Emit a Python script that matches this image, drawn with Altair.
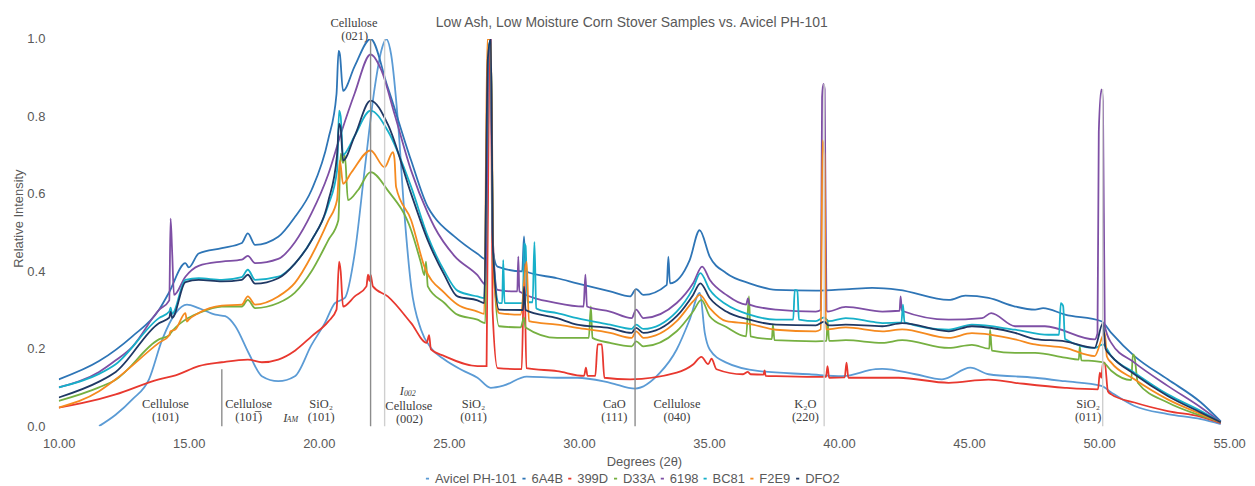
import altair as alt
import pandas as pd

SERIES = ["Avicel PH-101", "6A4B", "399D", "D33A", "6198", "BC81", "F2E9", "DFO2"]
COLORS = ["#5B9BD5", "#2E75B6", "#E8382F", "#76B041", "#7E4FA5", "#17B0C9", "#F58A1F", "#1F3864"]

AVICEL = [(11.55,0.0),(12.20,0.03),(12.83,0.069),(13.47,0.121),(13.98,0.224),(14.49,0.292),(14.93,0.314),(15.38,0.305),(16.02,0.288),(16.40,0.284),(16.79,0.258),(17.30,0.189),(17.81,0.129),(18.44,0.116),(19.08,0.129),(19.72,0.21),(20.23,0.266),(20.62,0.318),(21.00,0.331),(21.38,0.446),(21.76,0.661),(22.15,0.875),(22.40,0.969),(22.59,1.0),(22.78,0.96),(23.04,0.789),(23.29,0.549),(23.55,0.361),(23.93,0.249),(24.31,0.202),(24.83,0.172),(25.50,0.145),(26.10,0.125),(26.61,0.099),(27.12,0.105),(27.99,0.128),(29.16,0.125),(29.93,0.125),(31.20,0.112),(32.16,0.097),(33.12,0.138),(33.76,0.198),(34.26,0.275),(34.65,0.344),(34.84,0.241),(35.03,0.198),(35.67,0.164),(36.94,0.142),(38.86,0.134),(40.14,0.129),(41.41,0.147),(41.67,0.148),(42.94,0.134),(43.96,0.121),(45.05,0.151),(45.75,0.134),(47.54,0.125),(48.69,0.116),(50.09,0.104),(50.47,0.087),(51.36,0.052),(52.64,0.031),(53.92,0.018),(54.68,0.005)]

S_6A4B = [(10.0,0.121),(11.55,0.168),(12.83,0.232),(13.85,0.300),(14.23,0.344),(14.87,0.421),(15.00,0.410),(15.38,0.446),(16.27,0.460),(17.04,0.473),(17.27,0.498),(17.55,0.468),(18.44,0.489),(19.08,0.54),(19.72,0.61),(20.36,0.74),(20.68,0.858),(20.76,0.969),(20.81,0.96),(20.93,0.866),(21.38,0.93),(21.99,1.0),(22.65,0.875),(23.55,0.686),(24.19,0.566),(24.44,0.540),(25.21,0.49),(26.10,0.445),(26.45,0.43),(26.55,0.98),(26.61,1.0),(26.70,0.45),(26.87,0.412),(27.82,0.40),(27.89,0.49),(27.95,0.40),(29.16,0.382),(29.93,0.369),(31.20,0.348),(31.97,0.335),(32.20,0.354),(32.48,0.339),(33.38,0.365),(33.44,0.438),(33.50,0.369),(34.26,0.429),(34.64,0.506),(35.03,0.438),(35.67,0.395),(36.56,0.369),(37.58,0.352),(39.11,0.350),(40.39,0.354),(41.28,0.357),(42.30,0.352),(44.22,0.326),(44.86,0.337),(45.75,0.331),(46.77,0.309),(47.54,0.301),(47.85,0.305),(48.69,0.288),(50.09,0.271),(50.47,0.241),(51.36,0.181),(52.64,0.121),(53.92,0.061),(54.68,0.012)]

S_399D = [(10.0,0.048),(11.55,0.07),(12.19,0.082),(13.85,0.121),(14.49,0.131),(15.38,0.155),(16.27,0.165),(17.27,0.172),(17.81,0.165),(18.44,0.172),(19.08,0.195),(19.72,0.232),(20.36,0.27),(20.68,0.301),(20.78,0.425),(20.84,0.40),(20.93,0.309),(21.38,0.335),(21.83,0.361),(21.89,0.391),(21.95,0.375),(21.99,0.391),(22.08,0.361),(22.65,0.335),(23.55,0.266),(24.15,0.215),(24.24,0.235),(24.31,0.198),(24.83,0.181),(26.10,0.155),(26.45,0.155),(26.55,0.95),(26.61,1.0),(26.68,0.3),(26.87,0.15),(27.80,0.147),(27.90,0.42),(27.98,0.15),(29.16,0.142),(30.20,0.13),(30.27,0.151),(30.33,0.13),(30.63,0.13),(30.72,0.211),(30.88,0.211),(30.98,0.125),(31.97,0.121),(33.76,0.138),(34.39,0.159),(34.71,0.179),(34.97,0.16),(35.10,0.174),(35.29,0.147),(36.31,0.134),(36.50,0.14),(36.60,0.134),(37.10,0.133),(37.14,0.144),(37.18,0.130),(37.58,0.129),(39.11,0.127),(39.50,0.127),(39.56,0.155),(39.62,0.125),(40.22,0.126),(40.29,0.164),(40.36,0.125),(41.41,0.125),(42.30,0.125),(44.22,0.112),(45.75,0.12),(46.77,0.112),(48.69,0.099),(49.96,0.095),(50.03,0.138),(50.09,0.125),(50.15,0.164),(50.22,0.164),(50.34,0.09),(50.47,0.082),(51.36,0.061),(52.64,0.039),(53.92,0.024),(54.68,0.008)]

S_D33A = [(10.0,0.065),(11.55,0.10),(12.19,0.12),(13.85,0.224),(14.25,0.235),(14.30,0.24),(14.87,0.275),(15.38,0.292),(16.27,0.309),(17.04,0.309),(17.27,0.326),(17.55,0.305),(18.44,0.318),(19.08,0.345),(19.72,0.40),(20.36,0.48),(20.75,0.532),(20.84,0.704),(20.93,0.68),(21.00,0.70),(21.12,0.584),(21.51,0.61),(21.99,0.656),(22.65,0.609),(23.55,0.506),(23.93,0.421),(24.06,0.39),(24.12,0.425),(24.19,0.361),(24.83,0.318),(25.33,0.288),(26.10,0.275),(26.40,0.266),(26.52,0.95),(26.61,1.0),(26.70,0.45),(26.93,0.258),(27.76,0.255),(27.89,0.28),(27.95,0.255),(29.16,0.228),(30.38,0.228),(30.46,0.309),(30.52,0.228),(31.20,0.215),(32.03,0.206),(32.20,0.219),(32.48,0.206),(33.76,0.245),(34.39,0.296),(34.71,0.326),(35.03,0.284),(35.67,0.256),(36.43,0.232),(36.54,0.335),(36.60,0.232),(37.42,0.225),(37.46,0.262),(37.52,0.222),(39.11,0.219),(39.52,0.22),(39.56,0.275),(39.62,0.22),(40.26,0.222),(41.67,0.215),(42.43,0.222),(44.22,0.202),(45.11,0.21),(45.78,0.20),(45.81,0.249),(45.88,0.195),(46.77,0.189),(47.54,0.189),(48.69,0.177),(49.22,0.172),(49.26,0.206),(49.32,0.170),(49.83,0.168),(50.15,0.165),(50.47,0.143),(51.24,0.119),(51.30,0.185),(51.36,0.18),(51.49,0.112),(52.64,0.061),(53.92,0.027),(54.68,0.010)]

S_6198 = [(10.0,0.100),(11.55,0.140),(12.19,0.170),(12.83,0.205),(13.85,0.300),(14.25,0.325),(14.30,0.536),(14.36,0.45),(14.43,0.339),(14.87,0.386),(15.38,0.414),(16.27,0.425),(17.04,0.430),(17.27,0.440),(17.55,0.421),(18.44,0.432),(19.08,0.475),(19.72,0.55),(20.36,0.65),(20.87,0.76),(21.38,0.86),(21.99,0.960),(22.40,0.92),(22.91,0.806),(23.55,0.66),(24.19,0.55),(24.44,0.515),(25.21,0.44),(26.10,0.39),(26.42,0.365),(26.52,0.95),(26.61,1.0),(26.68,0.5),(26.87,0.352),(27.50,0.348),(27.63,0.348),(27.67,0.438),(27.71,0.348),(29.16,0.318),(30.18,0.309),(30.25,0.391),(30.31,0.309),(31.20,0.296),(32.03,0.279),(32.20,0.301),(32.48,0.279),(33.76,0.318),(34.39,0.369),(34.74,0.412),(35.03,0.378),(35.67,0.339),(36.43,0.314),(36.50,0.33),(36.56,0.314),(37.58,0.301),(39.11,0.296),(39.30,0.30),(39.35,0.85),(39.40,0.884),(39.45,0.87),(39.52,0.30),(39.56,0.296),(40.26,0.308),(41.67,0.296),(42.33,0.298),(42.37,0.335),(42.42,0.298),(44.22,0.275),(45.50,0.279),(45.85,0.292),(46.77,0.258),(47.54,0.258),(47.92,0.258),(49.83,0.224),(49.94,0.24),(49.99,0.76),(50.09,0.87),(50.15,0.84),(50.22,0.26),(50.47,0.215),(51.36,0.164),(52.64,0.104),(53.92,0.048),(54.68,0.010)]

S_BC81 = [(10.0,0.100),(11.55,0.135),(12.19,0.160),(13.85,0.279),(14.25,0.296),(14.30,0.306),(14.36,0.290),(14.87,0.378),(15.38,0.382),(16.27,0.378),(17.04,0.385),(17.27,0.404),(17.55,0.378),(18.44,0.386),(19.08,0.42),(19.72,0.48),(20.36,0.57),(20.70,0.66),(20.78,0.815),(20.84,0.80),(20.93,0.70),(21.00,0.704),(21.38,0.75),(21.99,0.815),(22.65,0.763),(23.55,0.618),(24.19,0.49),(24.83,0.40),(25.33,0.350),(26.10,0.335),(26.36,0.331),(26.50,0.95),(26.61,1.0),(26.70,0.45),(26.93,0.318),(27.05,0.318),(27.09,0.429),(27.14,0.318),(27.85,0.318),(27.89,0.472),(27.95,0.465),(28.02,0.32),(28.22,0.32),(28.29,0.476),(28.36,0.305),(28.46,0.301),(29.16,0.292),(29.93,0.279),(31.20,0.262),(32.03,0.251),(32.20,0.262),(32.48,0.251),(33.76,0.296),(34.39,0.356),(34.67,0.395),(35.03,0.352),(35.67,0.314),(36.56,0.288),(37.58,0.275),(38.24,0.275),(38.30,0.352),(38.40,0.350),(38.46,0.275),(39.11,0.271),(39.43,0.281),(39.60,0.271),(40.26,0.279),(41.41,0.268),(41.67,0.266),(42.40,0.268),(42.46,0.314),(42.52,0.268),(44.22,0.249),(45.11,0.262),(46.77,0.249),(48.05,0.236),(48.46,0.236),(48.53,0.318),(48.62,0.310),(48.69,0.225),(49.83,0.202),(50.15,0.211),(50.47,0.181),(51.36,0.138),(52.64,0.082),(53.92,0.039),(54.68,0.010)]

S_F2E9 = [(10.0,0.048),(11.55,0.09),(12.19,0.121),(13.85,0.215),(14.25,0.235),(14.30,0.245),(14.49,0.25),(14.87,0.292),(14.93,0.27),(15.00,0.275),(15.38,0.292),(16.27,0.311),(17.04,0.314),(17.27,0.335),(17.55,0.314),(18.44,0.335),(19.08,0.37),(19.72,0.44),(20.36,0.53),(20.70,0.584),(20.81,0.686),(20.93,0.626),(21.25,0.655),(21.99,0.712),(22.53,0.669),(22.85,0.708),(22.91,0.69),(22.97,0.618),(23.55,0.532),(24.06,0.412),(24.83,0.344),(25.33,0.314),(26.10,0.296),(26.36,0.290),(26.48,1.0),(26.61,1.0),(26.72,0.4),(26.80,0.335),(26.87,0.30),(26.93,0.292),(27.76,0.288),(27.99,0.425),(28.08,0.271),(29.16,0.262),(29.93,0.254),(31.20,0.241),(32.03,0.228),(32.20,0.245),(32.48,0.228),(33.76,0.271),(34.39,0.322),(34.65,0.339),(35.03,0.305),(35.67,0.271),(36.50,0.265),(37.58,0.249),(39.11,0.245),(39.30,0.25),(39.37,0.738),(39.44,0.70),(39.50,0.25),(40.26,0.255),(41.67,0.245),(42.43,0.25),(44.22,0.228),(45.11,0.24),(46.77,0.224),(47.54,0.211),(48.69,0.202),(49.83,0.181),(50.22,0.241),(50.30,0.18),(50.47,0.164),(51.36,0.121),(52.64,0.069),(53.92,0.031),(54.68,0.010)]

S_DFO2 = [(10.0,0.074),(11.55,0.115),(12.19,0.140),(13.85,0.266),(14.25,0.28),(14.30,0.295),(14.36,0.28),(14.87,0.372),(15.38,0.378),(16.27,0.374),(17.04,0.378),(17.27,0.391),(17.55,0.368),(18.44,0.382),(19.08,0.42),(19.72,0.48),(20.36,0.58),(20.70,0.70),(20.78,0.781),(20.84,0.77),(20.93,0.686),(21.38,0.75),(21.99,0.841),(22.65,0.78),(23.55,0.60),(24.19,0.48),(24.83,0.39),(25.33,0.335),(26.10,0.325),(26.36,0.318),(26.50,0.95),(26.61,1.0),(26.70,0.45),(26.93,0.301),(27.85,0.30),(27.89,0.36),(27.95,0.30),(29.16,0.279),(29.93,0.262),(31.20,0.253),(32.03,0.241),(32.20,0.254),(32.48,0.241),(33.76,0.284),(34.39,0.339),(34.67,0.369),(35.03,0.331),(35.67,0.296),(36.56,0.275),(37.58,0.262),(39.11,0.260),(39.43,0.270),(39.60,0.26),(40.26,0.262),(41.67,0.258),(42.43,0.266),(44.22,0.245),(45.11,0.258),(46.77,0.241),(47.54,0.225),(48.69,0.219),(49.83,0.202),(50.15,0.266),(50.25,0.20),(50.47,0.181),(51.36,0.134),(52.64,0.078),(53.92,0.035),(54.68,0.010)]

X_TICKS = [10, 15, 20, 25, 30, 35, 40, 45, 50, 55]
Y_TICKS = [0.0, 0.1, 0.2, 0.3, 0.4, 0.5, 0.6, 0.7, 0.8, 0.9, 1.0]

# reference drop lines (position in degrees, top in relative intensity)
DARK_RULE_X = [16.27, 21.99, 32.16]
DARK_RULE_TOP = [0.147, 1.0, 0.354]
LIGHT_RULE_X = [22.53, 39.43, 50.14]
LIGHT_RULE_TOP = [1.0, 0.884, 0.87]

# peak annotations
ANN_TEXT = ["Cellulose", "(101)", "Cellulose", "(101\u0305)", "SiO\u2082", "(101)", "Cellulose", "(002)",
            "SiO\u2082", "(011)", "CaO", "(111)", "Cellulose", "(040)", "K\u2082O", "(220)",
            "SiO\u2082", "(011)", "Cellulose", "(021)"]
ANN_X = [14.10, 14.10, 17.30, 17.30, 20.09, 20.09, 23.46, 23.48, 25.95, 25.95, 31.36, 31.36,
         33.77, 33.77, 38.71, 38.71, 49.58, 49.58, 21.35, 21.38]
ANN_Y = [0.057, 0.023, 0.057, 0.023, 0.057, 0.023, 0.051, 0.018, 0.057, 0.023, 0.057, 0.023,
         0.057, 0.023, 0.057, 0.023, 0.057, 0.023, 1.041, 1.008]
ITAL_TEXT = ["I", "I"]
ITAL_X = [18.71, 23.19]
ITAL_Y = [0.022, 0.091]
SUB_TEXT = ["AM", "002"]
SUB_X = [18.98, 23.50]
SUB_Y = [0.015, 0.082]

TITLE_TEXT = ["Low Ash, Low Moisture Corn Stover Samples vs. Avicel PH-101"]
TITLE_X = [32.03]
TITLE_Y = [1.041]

pairs = {"Avicel PH-101": AVICEL, "6A4B": S_6A4B, "399D": S_399D, "D33A": S_D33A,
         "6198": S_6198, "BC81": S_BC81, "F2E9": S_F2E9, "DFO2": S_DFO2}
rows = []
for s in SERIES:
    for d, v in pairs[s]:
        rows.append({"series": s, "deg": d, "val": v})
df = pd.DataFrame(rows)

GRAY = "#595959"
FONT = "Liberation Sans"

x_enc = alt.X("deg:Q", scale=alt.Scale(domain=[10, 55], nice=False, zero=False),
              axis=alt.Axis(values=X_TICKS, format=".2f", title="Degrees (2\u03b8)",
                            labelFlush=False, labelPadding=11, titleY=36,
                            titleBaseline="middle"))
y_enc = alt.Y("val:Q", scale=alt.Scale(domain=[0, 1], nice=False),
              axis=alt.Axis(values=Y_TICKS, format=".1f", title="Relative Intensity",
                            labelPadding=14, titleAngle=270, titleX=-40, titleY=180,
                            titleAlign="center", titleBaseline="middle"))

lines = alt.Chart(df).mark_line(strokeWidth=1.8, clip=True, interpolate="monotone").encode(
    x=x_enc, y=y_enc,
    color=alt.Color("series:N", sort=SERIES,
                    scale=alt.Scale(domain=SERIES, range=COLORS),
                    legend=alt.Legend(title=None, orient="none", legendX=364, legendY=435,
                                      direction="horizontal", symbolType="stroke",
                                      symbolSize=10, symbolStrokeWidth=1.6, labelOffset=1,
                                      columnPadding=0, labelFontSize=13, labelColor=GRAY,
                                      labelFont=FONT, padding=0)),
    strokeWidth=alt.StrokeWidth("series:N", sort=SERIES,
                                scale=alt.Scale(domain=SERIES, range=[1.8] * 7 + [1.3]),
                                legend=None),
)

dark_df = pd.DataFrame({"deg": DARK_RULE_X, "top": DARK_RULE_TOP, "zero": [0.0] * len(DARK_RULE_X)})
light_df = pd.DataFrame({"deg": LIGHT_RULE_X, "top": LIGHT_RULE_TOP, "zero": [0.0] * len(LIGHT_RULE_X)})
dark_rules = alt.Chart(dark_df).mark_rule(color="#8C8C8C", strokeWidth=1.4).encode(
    x="deg:Q", y="zero:Q", y2="top:Q")
light_rules = alt.Chart(light_df).mark_rule(color="#CFCFCF", strokeWidth=1.4).encode(
    x="deg:Q", y="zero:Q", y2="top:Q")

ann_df = pd.DataFrame({"t": ANN_TEXT, "deg": ANN_X, "val": ANN_Y})
ann = alt.Chart(ann_df).mark_text(font="Liberation Serif", fontSize=12.5, color="#404040").encode(
    x="deg:Q", y="val:Q", text="t:N")
ital_df = pd.DataFrame({"t": ITAL_TEXT, "deg": ITAL_X, "val": ITAL_Y})
ital = alt.Chart(ital_df).mark_text(font="Liberation Serif", fontSize=12.5, fontStyle="italic",
                                    color="#404040").encode(x="deg:Q", y="val:Q", text="t:N")
sub_df = pd.DataFrame({"t": SUB_TEXT, "deg": SUB_X, "val": SUB_Y})
sub = alt.Chart(sub_df).mark_text(font="Liberation Serif", fontSize=8, fontStyle="italic",
                                  color="#404040").encode(x="deg:Q", y="val:Q", text="t:N")
title_df = pd.DataFrame({"t": TITLE_TEXT, "deg": TITLE_X, "val": TITLE_Y})
title = alt.Chart(title_df).mark_text(font=FONT, fontSize=14, color=GRAY).encode(
    x="deg:Q", y="val:Q", text="t:N")

chart = alt.layer(lines, dark_rules, light_rules, ann, ital, sub, title).properties(
    width=1176, height=389,
    padding={"left": 51, "top": 30, "right": 18, "bottom": 58},
    autosize=alt.AutoSizeParams(type="none"),
).configure_view(stroke=None).configure_axis(
    domain=False, ticks=False, grid=False, labelFont=FONT, labelFontSize=13, labelColor=GRAY,
    titleFont=FONT, titleFontSize=13, titleColor=GRAY, titleFontWeight="normal",
)

chart.save("out.html", embed_options={"renderer": "svg", "actions": False})
